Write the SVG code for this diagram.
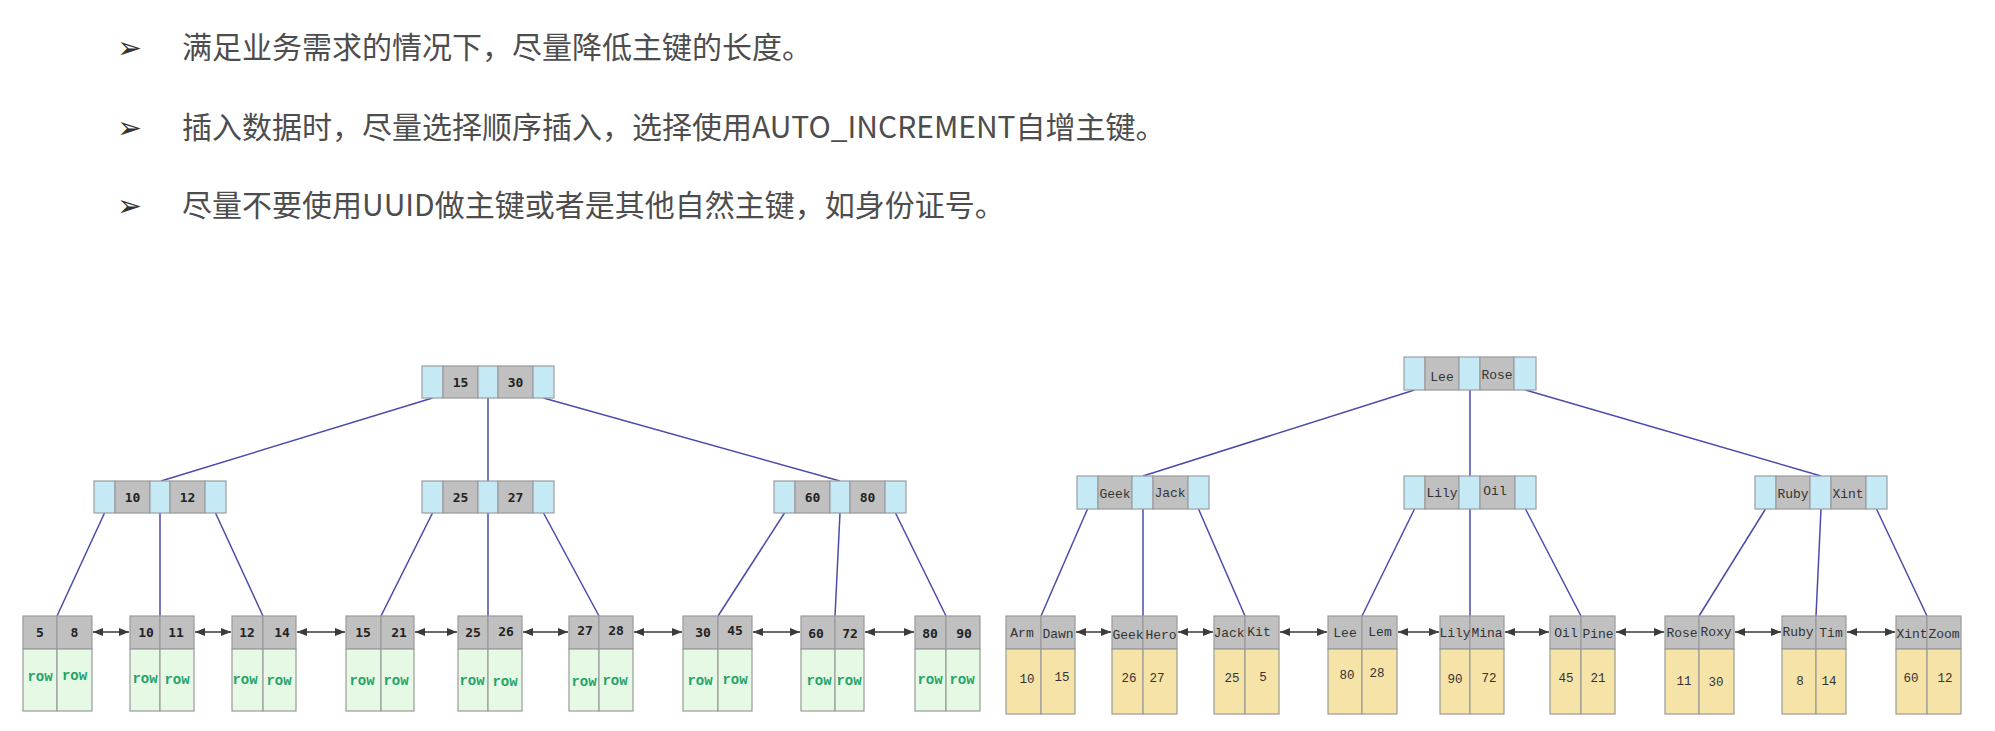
<svg xmlns="http://www.w3.org/2000/svg" width="1995" height="731" viewBox="0 0 1995 731">
  <style>
    .bg { fill: #ffffff; }
    .tip { font-family: "Noto Sans CJK SC", "Noto Sans", sans-serif; font-size: 30px; fill: #4d4d4d; }
    .bul { font-family: "DejaVu Sans", sans-serif; font-size: 30px; fill: #333333; }
    .ptr { fill: #c6e9f6; stroke: #9a9fa3; stroke-width: 1.2; }
    .key { fill: #c0c0c0; stroke: #9a9a9a; stroke-width: 1.2; }
    .row { fill: #e6f9e4; stroke: #9a9a9a; stroke-width: 1.2; }
    .val { fill: #f5e3a8; stroke: #9a9a9a; stroke-width: 1.2; }
    .num { font-family: "DejaVu Sans Mono", "Liberation Mono", monospace; font-size: 13px; font-weight: bold; fill: #222222; text-anchor: middle; }
    .rw { font-family: "Liberation Mono", monospace; font-size: 14px; font-weight: bold; fill: #22a368; text-anchor: middle; }
    .nm { font-family: "Liberation Mono", monospace; font-size: 13px; fill: #333333; text-anchor: middle; }
    .vl { font-family: "Liberation Mono", monospace; font-size: 12.5px; fill: #333333; text-anchor: middle; }
    .edge { stroke: #4b4bab; stroke-width: 1.5; fill: none; }
    .link { stroke: #3a3a3a; stroke-width: 1.3; fill: none; marker-start: url(#ah); marker-end: url(#ah); }
  </style>
  <defs>
    <marker id="ah" viewBox="0 0 10 8" refX="10" refY="4" markerWidth="10" markerHeight="8" markerUnits="userSpaceOnUse" orient="auto-start-reverse">
      <path d="M0,0 L10,4 L0,8 z" fill="#3a3a3a"/>
    </marker>
  </defs>

  <rect class="bg" x="0" y="0" width="1995" height="731"/>

  <!-- guideline bullets -->
  <g id="tips">
    <text class="bul" x="117" y="58">➢</text>
    <text class="tip" x="182" y="58">满足业务需求的情况下，尽量降低主键的长度。</text>
    <text class="bul" x="117" y="138">➢</text>
    <text class="tip" x="182" y="138">插入数据时，尽量选择顺序插入，选择使用AUTO_INCREMENT自增主键。</text>
    <text class="bul" x="117" y="216">➢</text>
    <text class="tip" x="182" y="216">尽量不要使用UUID做主键或者是其他自然主键，如身份证号。</text>
  </g>

  <!-- connectors: parent pointers and leaf sibling links -->
  <g id="connectors">
    <!-- clustered index tree -->
    <line class="edge" x1="432.5" y1="398" x2="161" y2="481"/>
    <line class="edge" x1="488" y1="398" x2="488" y2="481"/>
    <line class="edge" x1="543.5" y1="398" x2="840" y2="481"/>
    <line class="edge" x1="104.5" y1="513" x2="57" y2="616"/>
    <line class="edge" x1="160" y1="513" x2="160" y2="616"/>
    <line class="edge" x1="215.5" y1="513" x2="263" y2="616"/>
    <line class="edge" x1="432.5" y1="513" x2="381" y2="616"/>
    <line class="edge" x1="488" y1="513" x2="488" y2="616"/>
    <line class="edge" x1="543.5" y1="513" x2="599" y2="616"/>
    <line class="edge" x1="784.5" y1="513" x2="718" y2="616"/>
    <line class="edge" x1="840" y1="513" x2="835" y2="616"/>
    <line class="edge" x1="895.5" y1="513" x2="946" y2="616"/>
    <!-- secondary index tree -->
    <line class="edge" x1="1414.5" y1="390" x2="1143" y2="476"/>
    <line class="edge" x1="1470" y1="390" x2="1470" y2="476"/>
    <line class="edge" x1="1525.5" y1="390" x2="1821" y2="476"/>
    <line class="edge" x1="1087.5" y1="509" x2="1041" y2="616"/>
    <line class="edge" x1="1143" y1="509" x2="1143" y2="616"/>
    <line class="edge" x1="1198.5" y1="509" x2="1245" y2="616"/>
    <line class="edge" x1="1414.5" y1="509" x2="1362" y2="616"/>
    <line class="edge" x1="1470" y1="509" x2="1470" y2="616"/>
    <line class="edge" x1="1525.5" y1="509" x2="1581" y2="616"/>
    <line class="edge" x1="1765.5" y1="509" x2="1699" y2="616"/>
    <line class="edge" x1="1821" y1="509" x2="1816" y2="616"/>
    <line class="edge" x1="1876.5" y1="509" x2="1927" y2="616"/>
    <!-- leaf sibling links -->
    <line class="link" x1="93" y1="632" x2="129" y2="632"/>
    <line class="link" x1="195" y1="632" x2="231" y2="632"/>
    <line class="link" x1="297" y1="632" x2="345" y2="632"/>
    <line class="link" x1="415" y1="632" x2="457" y2="632"/>
    <line class="link" x1="523" y1="632" x2="568" y2="632"/>
    <line class="link" x1="634" y1="632" x2="682" y2="632"/>
    <line class="link" x1="753" y1="632" x2="800" y2="632"/>
    <line class="link" x1="865" y1="632" x2="914" y2="632"/>
    <line class="link" x1="1076" y1="632" x2="1111" y2="632"/>
    <line class="link" x1="1178" y1="632" x2="1213" y2="632"/>
    <line class="link" x1="1280" y1="632" x2="1327" y2="632"/>
    <line class="link" x1="1398" y1="632" x2="1439" y2="632"/>
    <line class="link" x1="1505" y1="632" x2="1549" y2="632"/>
    <line class="link" x1="1616" y1="632" x2="1664" y2="632"/>
    <line class="link" x1="1735" y1="632" x2="1781" y2="632"/>
    <line class="link" x1="1847" y1="632" x2="1895" y2="632"/>
  </g>

  <!-- clustered index: inner nodes -->
  <g id="c-root">
    <rect class="ptr" x="422" y="366" width="21" height="32"/>
    <rect class="key" x="443" y="366" width="35" height="32"/>
    <rect class="ptr" x="478" y="366" width="20" height="32"/>
    <rect class="key" x="498" y="366" width="35" height="32"/>
    <rect class="ptr" x="533" y="366" width="21" height="32"/>
    <text class="num" x="460.5" y="387">15</text>
    <text class="num" x="515.5" y="387">30</text>
  </g>
  <g id="c-mid-1">
    <rect class="ptr" x="94" y="481" width="21" height="32"/>
    <rect class="key" x="115" y="481" width="35" height="32"/>
    <rect class="ptr" x="150" y="481" width="20" height="32"/>
    <rect class="key" x="170" y="481" width="35" height="32"/>
    <rect class="ptr" x="205" y="481" width="21" height="32"/>
    <text class="num" x="132.5" y="502">10</text>
    <text class="num" x="187.5" y="502">12</text>
  </g>
  <g id="c-mid-2">
    <rect class="ptr" x="422" y="481" width="21" height="32"/>
    <rect class="key" x="443" y="481" width="35" height="32"/>
    <rect class="ptr" x="478" y="481" width="20" height="32"/>
    <rect class="key" x="498" y="481" width="35" height="32"/>
    <rect class="ptr" x="533" y="481" width="21" height="32"/>
    <text class="num" x="460.5" y="502">25</text>
    <text class="num" x="515.5" y="502">27</text>
  </g>
  <g id="c-mid-3">
    <rect class="ptr" x="774" y="481" width="21" height="32"/>
    <rect class="key" x="795" y="481" width="35" height="32"/>
    <rect class="ptr" x="830" y="481" width="20" height="32"/>
    <rect class="key" x="850" y="481" width="35" height="32"/>
    <rect class="ptr" x="885" y="481" width="21" height="32"/>
    <text class="num" x="812.5" y="502">60</text>
    <text class="num" x="867.5" y="502">80</text>
  </g>

  <!-- clustered index: leaves (key + row) -->
  <g id="c-leaf-1">
    <rect class="key" x="23" y="616" width="34" height="33"/><rect class="key" x="57" y="616" width="35" height="33"/>
    <rect class="row" x="23" y="649" width="34" height="62"/><rect class="row" x="57" y="649" width="35" height="62"/>
    <text class="num" x="40" y="637">5</text><text class="num" x="74.5" y="637">8</text>
    <text class="rw" x="40" y="681">row</text><text class="rw" x="74.5" y="680">row</text>
  </g>
  <g id="c-leaf-2">
    <rect class="key" x="130" y="616" width="30" height="33"/><rect class="key" x="160" y="616" width="34" height="33"/>
    <rect class="row" x="130" y="649" width="30" height="62"/><rect class="row" x="160" y="649" width="34" height="62"/>
    <text class="num" x="146" y="637">10</text><text class="num" x="176" y="637">11</text>
    <text class="rw" x="145" y="683">row</text><text class="rw" x="177" y="684">row</text>
  </g>
  <g id="c-leaf-3">
    <rect class="key" x="232" y="616" width="31" height="33"/><rect class="key" x="263" y="616" width="33" height="33"/>
    <rect class="row" x="232" y="649" width="31" height="62"/><rect class="row" x="263" y="649" width="33" height="62"/>
    <text class="num" x="247" y="637">12</text><text class="num" x="282" y="637">14</text>
    <text class="rw" x="245" y="684">row</text><text class="rw" x="279" y="685">row</text>
  </g>
  <g id="c-leaf-4">
    <rect class="key" x="346" y="616" width="35" height="33"/><rect class="key" x="381" y="616" width="33" height="33"/>
    <rect class="row" x="346" y="649" width="35" height="62"/><rect class="row" x="381" y="649" width="33" height="62"/>
    <text class="num" x="363" y="637">15</text><text class="num" x="399" y="637">21</text>
    <text class="rw" x="362" y="685">row</text><text class="rw" x="396" y="685">row</text>
  </g>
  <g id="c-leaf-5">
    <rect class="key" x="458" y="616" width="30" height="33"/><rect class="key" x="488" y="616" width="34" height="33"/>
    <rect class="row" x="458" y="649" width="30" height="62"/><rect class="row" x="488" y="649" width="34" height="62"/>
    <text class="num" x="473" y="637">25</text><text class="num" x="506" y="636">26</text>
    <text class="rw" x="472" y="685">row</text><text class="rw" x="505" y="686">row</text>
  </g>
  <g id="c-leaf-6">
    <rect class="key" x="569" y="616" width="30" height="33"/><rect class="key" x="599" y="616" width="34" height="33"/>
    <rect class="row" x="569" y="649" width="30" height="62"/><rect class="row" x="599" y="649" width="34" height="62"/>
    <text class="num" x="585" y="635">27</text><text class="num" x="616" y="635">28</text>
    <text class="rw" x="584" y="686">row</text><text class="rw" x="615" y="685">row</text>
  </g>
  <g id="c-leaf-7">
    <rect class="key" x="683" y="616" width="35" height="33"/><rect class="key" x="718" y="616" width="34" height="33"/>
    <rect class="row" x="683" y="649" width="35" height="62"/><rect class="row" x="718" y="649" width="34" height="62"/>
    <text class="num" x="703" y="637">30</text><text class="num" x="735" y="635">45</text>
    <text class="rw" x="700" y="685">row</text><text class="rw" x="735" y="684">row</text>
  </g>
  <g id="c-leaf-8">
    <rect class="key" x="801" y="616" width="34" height="33"/><rect class="key" x="835" y="616" width="29" height="33"/>
    <rect class="row" x="801" y="649" width="34" height="62"/><rect class="row" x="835" y="649" width="29" height="62"/>
    <text class="num" x="816" y="638">60</text><text class="num" x="850" y="638">72</text>
    <text class="rw" x="819" y="685">row</text><text class="rw" x="849" y="685">row</text>
  </g>
  <g id="c-leaf-9">
    <rect class="key" x="915" y="616" width="31" height="33"/><rect class="key" x="946" y="616" width="34" height="33"/>
    <rect class="row" x="915" y="649" width="31" height="62"/><rect class="row" x="946" y="649" width="34" height="62"/>
    <text class="num" x="930" y="638">80</text><text class="num" x="964" y="638">90</text>
    <text class="rw" x="930" y="684">row</text><text class="rw" x="962" y="684">row</text>
  </g>

  <!-- secondary index: inner nodes -->
  <g id="s-root">
    <rect class="ptr" x="1404" y="357" width="21" height="33"/>
    <rect class="key" x="1425" y="357" width="34" height="33"/>
    <rect class="ptr" x="1459" y="357" width="21" height="33"/>
    <rect class="key" x="1480" y="357" width="34" height="33"/>
    <rect class="ptr" x="1514" y="357" width="22" height="33"/>
    <text class="nm" x="1442" y="381">Lee</text>
    <text class="nm" x="1497" y="379">Rose</text>
  </g>
  <g id="s-mid-1">
    <rect class="ptr" x="1077" y="476" width="21" height="33"/>
    <rect class="key" x="1098" y="476" width="34" height="33"/>
    <rect class="ptr" x="1132" y="476" width="21" height="33"/>
    <rect class="key" x="1153" y="476" width="35" height="33"/>
    <rect class="ptr" x="1188" y="476" width="21" height="33"/>
    <text class="nm" x="1115" y="498">Geek</text>
    <text class="nm" x="1170" y="497">Jack</text>
  </g>
  <g id="s-mid-2">
    <rect class="ptr" x="1404" y="476" width="21" height="33"/>
    <rect class="key" x="1425" y="476" width="34" height="33"/>
    <rect class="ptr" x="1459" y="476" width="21" height="33"/>
    <rect class="key" x="1480" y="476" width="35" height="33"/>
    <rect class="ptr" x="1515" y="476" width="21" height="33"/>
    <text class="nm" x="1442" y="497">Lily</text>
    <text class="nm" x="1495" y="495">Oil</text>
  </g>
  <g id="s-mid-3">
    <rect class="ptr" x="1755" y="476" width="21" height="33"/>
    <rect class="key" x="1776" y="476" width="34" height="33"/>
    <rect class="ptr" x="1810" y="476" width="21" height="33"/>
    <rect class="key" x="1831" y="476" width="35" height="33"/>
    <rect class="ptr" x="1866" y="476" width="21" height="33"/>
    <text class="nm" x="1793" y="498">Ruby</text>
    <text class="nm" x="1848" y="498">Xint</text>
  </g>

  <!-- secondary index: leaves (name + primary key) -->
  <g id="s-leaf-1">
    <rect class="key" x="1006" y="616" width="35" height="33"/><rect class="key" x="1041" y="616" width="34" height="33"/>
    <rect class="val" x="1006" y="649" width="35" height="65"/><rect class="val" x="1041" y="649" width="34" height="65"/>
    <text class="nm" x="1022" y="637">Arm</text><text class="nm" x="1058" y="638">Dawn</text>
    <text class="vl" x="1027" y="683">10</text><text class="vl" x="1062" y="681">15</text>
  </g>
  <g id="s-leaf-2">
    <rect class="key" x="1112" y="616" width="31" height="33"/><rect class="key" x="1143" y="616" width="34" height="33"/>
    <rect class="val" x="1112" y="649" width="31" height="65"/><rect class="val" x="1143" y="649" width="34" height="65"/>
    <text class="nm" x="1128" y="639">Geek</text><text class="nm" x="1161" y="639">Hero</text>
    <text class="vl" x="1129" y="682">26</text><text class="vl" x="1157" y="682">27</text>
  </g>
  <g id="s-leaf-3">
    <rect class="key" x="1214" y="616" width="31" height="33"/><rect class="key" x="1245" y="616" width="34" height="33"/>
    <rect class="val" x="1214" y="649" width="31" height="65"/><rect class="val" x="1245" y="649" width="34" height="65"/>
    <text class="nm" x="1229" y="637">Jack</text><text class="nm" x="1259" y="636">Kit</text>
    <text class="vl" x="1232" y="682">25</text><text class="vl" x="1263" y="681">5</text>
  </g>
  <g id="s-leaf-4">
    <rect class="key" x="1328" y="616" width="34" height="33"/><rect class="key" x="1362" y="616" width="35" height="33"/>
    <rect class="val" x="1328" y="649" width="34" height="65"/><rect class="val" x="1362" y="649" width="35" height="65"/>
    <text class="nm" x="1345" y="637">Lee</text><text class="nm" x="1380" y="636">Lem</text>
    <text class="vl" x="1347" y="679">80</text><text class="vl" x="1377" y="677">28</text>
  </g>
  <g id="s-leaf-5">
    <rect class="key" x="1440" y="616" width="30" height="33"/><rect class="key" x="1470" y="616" width="34" height="33"/>
    <rect class="val" x="1440" y="649" width="30" height="65"/><rect class="val" x="1470" y="649" width="34" height="65"/>
    <text class="nm" x="1455" y="637">Lily</text><text class="nm" x="1487" y="637">Mina</text>
    <text class="vl" x="1455" y="683">90</text><text class="vl" x="1489" y="682">72</text>
  </g>
  <g id="s-leaf-6">
    <rect class="key" x="1550" y="616" width="31" height="33"/><rect class="key" x="1581" y="616" width="34" height="33"/>
    <rect class="val" x="1550" y="649" width="31" height="65"/><rect class="val" x="1581" y="649" width="34" height="65"/>
    <text class="nm" x="1566" y="637">Oil</text><text class="nm" x="1598" y="638">Pine</text>
    <text class="vl" x="1566" y="682">45</text><text class="vl" x="1598" y="682">21</text>
  </g>
  <g id="s-leaf-7">
    <rect class="key" x="1665" y="616" width="34" height="33"/><rect class="key" x="1699" y="616" width="35" height="33"/>
    <rect class="val" x="1665" y="649" width="34" height="65"/><rect class="val" x="1699" y="649" width="35" height="65"/>
    <text class="nm" x="1682" y="637">Rose</text><text class="nm" x="1716" y="636">Roxy</text>
    <text class="vl" x="1684" y="685">11</text><text class="vl" x="1716" y="686">30</text>
  </g>
  <g id="s-leaf-8">
    <rect class="key" x="1782" y="616" width="34" height="33"/><rect class="key" x="1816" y="616" width="30" height="33"/>
    <rect class="val" x="1782" y="649" width="34" height="65"/><rect class="val" x="1816" y="649" width="30" height="65"/>
    <text class="nm" x="1798" y="636">Ruby</text><text class="nm" x="1831" y="637">Tim</text>
    <text class="vl" x="1800" y="685">8</text><text class="vl" x="1829" y="685">14</text>
  </g>
  <g id="s-leaf-9">
    <rect class="key" x="1896" y="616" width="31" height="33"/><rect class="key" x="1927" y="616" width="34" height="33"/>
    <rect class="val" x="1896" y="649" width="31" height="65"/><rect class="val" x="1927" y="649" width="34" height="65"/>
    <text class="nm" x="1912" y="638">Xint</text><text class="nm" x="1944" y="638">Zoom</text>
    <text class="vl" x="1911" y="682">60</text><text class="vl" x="1945" y="682">12</text>
  </g>
</svg>
